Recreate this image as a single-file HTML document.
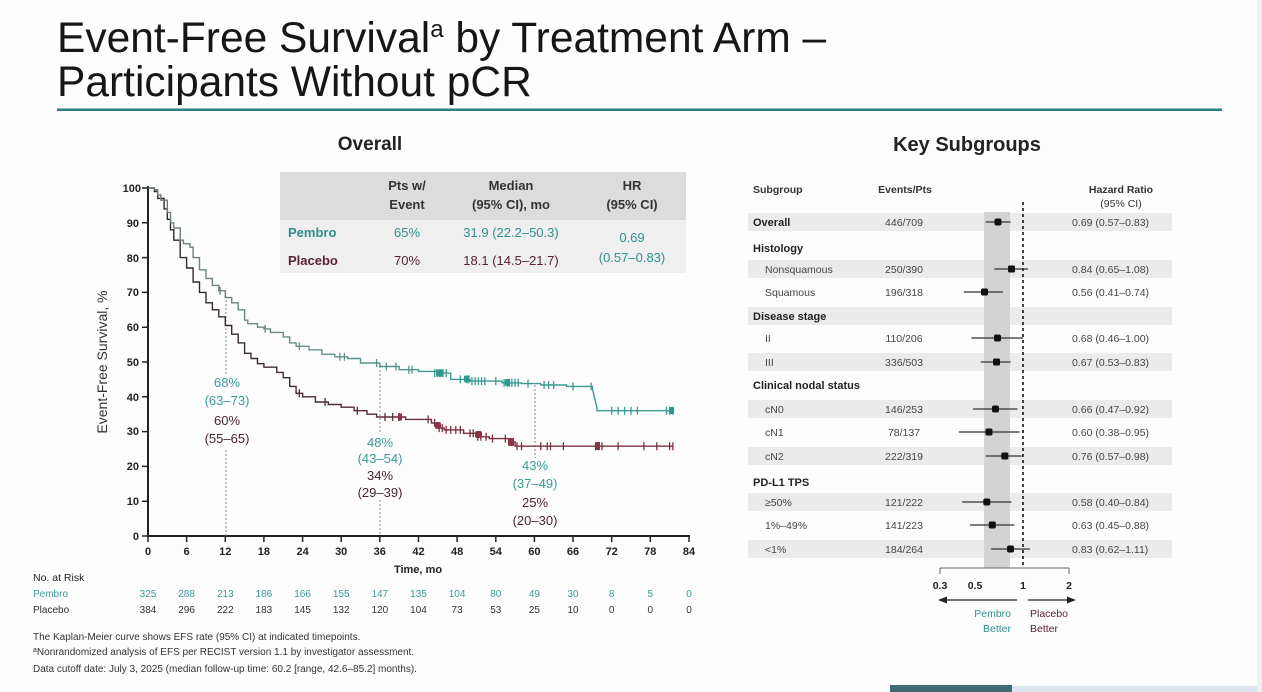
<!DOCTYPE html>
<html><head><meta charset="utf-8"><style>
html,body{margin:0;padding:0;background:#fdfdfe;}
svg{display:block;font-family:"Liberation Sans",Arial,sans-serif;}
</style></head><body>
<svg width="1262" height="692" viewBox="0 0 1262 692" xmlns="http://www.w3.org/2000/svg">
<defs>
<linearGradient id="gp" gradientUnits="userSpaceOnUse" x1="148" y1="0" x2="460" y2="0">
<stop offset="0" stop-color="#6f7b7b"/><stop offset="0.55" stop-color="#6a8e8c"/><stop offset="1" stop-color="#3a9a90"/>
</linearGradient>
<linearGradient id="gq" gradientUnits="userSpaceOnUse" x1="148" y1="0" x2="460" y2="0">
<stop offset="0" stop-color="#2c2a2c"/><stop offset="0.6" stop-color="#4a2a33"/><stop offset="1" stop-color="#7a3040"/>
</linearGradient>
</defs>
<rect x="0" y="0" width="1262" height="692" fill="#fdfdfe"/>
<!-- slide edge decorations -->
<rect x="1010" y="686" width="252" height="6" fill="#dfe5ec"/>
<rect x="1257" y="0" width="5" height="692" fill="#eef1f4"/>
<rect x="890" y="685" width="122" height="7" fill="#3f6b79"/>

<!-- Title -->
<text x="57" y="52" font-size="42.5" fill="#161616">Event-Free Survival<tspan font-size="24" dy="-15">a</tspan><tspan dy="15"> by Treatment Arm –</tspan></text>
<text x="57" y="96" font-size="42.5" fill="#161616">Participants Without pCR</text>
<rect x="57" y="108.5" width="1165" height="2.5" fill="#2f7f7c"/>

<text x="370" y="150" font-size="19" font-weight="bold" text-anchor="middle" fill="#222">Overall</text>
<text x="967" y="151" font-size="20" font-weight="bold" text-anchor="middle" fill="#222">Key Subgroups</text>

<!-- KM inset table -->
<rect x="280" y="172" width="406" height="48" fill="#dcdcdc"/>
<rect x="280" y="220" width="406" height="53" fill="#efefef"/>
<g font-size="13" fill="#333" font-weight="bold" text-anchor="middle">
<text x="407" y="190">Pts w/</text><text x="407" y="209">Event</text>
<text x="511" y="190">Median</text><text x="511" y="209">(95% CI), mo</text>
<text x="632" y="190">HR</text><text x="632" y="209">(95% CI)</text>
</g>
<g font-size="13">
<text x="288" y="237" fill="#2e8f8c" font-weight="bold">Pembro</text>
<text x="407" y="237" fill="#2e8f8c" text-anchor="middle">65%</text>
<text x="511" y="237" fill="#2e8f8c" text-anchor="middle">31.9 (22.2–50.3)</text>
<text x="288" y="265" fill="#5a2233" font-weight="bold">Placebo</text>
<text x="407" y="265" fill="#5a2233" text-anchor="middle">70%</text>
<text x="511" y="265" fill="#5a2233" text-anchor="middle">18.1 (14.5–21.7)</text>
<text x="632" y="242" fill="#2e8f8c" text-anchor="middle">0.69</text>
<text x="632" y="262" fill="#2e8f8c" text-anchor="middle">(0.57–0.83)</text>
</g>

<!-- KM axes -->
<line x1="148" y1="186" x2="148" y2="537" stroke="#222" stroke-width="2"/>
<line x1="147" y1="536" x2="690" y2="536" stroke="#222" stroke-width="2"/>
<g stroke="#222" stroke-width="1.5">
<path d="M142,188H148 M142,222.8H148 M142,257.6H148 M142,292.4H148 M142,327.2H148 M142,362H148 M142,396.8H148 M142,431.6H148 M142,466.4H148 M142,501.2H148 M142,536H148"/>
<path d="M148,536V542 M186.6,536V542 M225.3,536V542 M263.9,536V542 M302.6,536V542 M341.2,536V542 M379.8,536V542 M418.5,536V542 M457.1,536V542 M495.8,536V542 M534.4,536V542 M573,536V542 M611.7,536V542 M650.3,536V542 M689,536V542"/>
</g>
<g font-size="11" font-weight="bold" fill="#222" text-anchor="end">
<text x="141" y="192">100</text><text x="139" y="227">90</text><text x="139" y="262">80</text><text x="139" y="296">70</text><text x="139" y="331">60</text><text x="139" y="366">50</text><text x="139" y="401">40</text><text x="139" y="435">30</text><text x="139" y="470">20</text><text x="139" y="505">10</text><text x="139" y="540">0</text>
</g>
<g font-size="11" font-weight="bold" fill="#222" text-anchor="middle">
<text x="148" y="555">0</text><text x="186.6" y="555">6</text><text x="225.3" y="555">12</text><text x="263.9" y="555">18</text><text x="302.6" y="555">24</text><text x="341.2" y="555">30</text><text x="379.8" y="555">36</text><text x="418.5" y="555">42</text><text x="457.1" y="555">48</text><text x="495.8" y="555">54</text><text x="534.4" y="555">60</text><text x="573" y="555">66</text><text x="611.7" y="555">72</text><text x="650.3" y="555">78</text><text x="689" y="555">84</text>
</g>
<text x="418" y="573" font-size="11" font-weight="bold" fill="#222" text-anchor="middle">Time, mo</text>
<text transform="translate(107,362) rotate(-90)" font-size="14" fill="#333" text-anchor="middle">Event-Free Survival, %</text>

<!-- dotted reference lines -->
<g stroke="#888" stroke-width="1" stroke-dasharray="2 2" fill="none">
<path d="M226,296V374 M226,450V536 M380,366V434 M380,500V536 M535,385V458"/>
</g>

<!-- curves -->
<path d="M148,188 H154.4 V191.5 H157.7 V198.4 H164.1 V208.9 H167.3 V219.3 H170.5 V229.8 H173.8 V240.2 H180.2 V257.6 H186.6 V268 H193.1 V282 H199.5 V292.4 H206 V302.8 H212.4 V309.8 H218.8 V316.8 H225.3 V325.5 H231.7 V334.2 H238.2 V342.9 H244.6 V353.3 H251 V358.5 H257.5 V363.7 H263.9 V367.2 H276.8 V372.4 H283.2 V377.7 H289.7 V386.4 H296.1 V393.3 H302.6 V396.8 H315.4 V402 H328.3 V404.5 H341.2 V407.2 H354.1 V410.7 H367 V414.2 H376.6 V417 H405.6 V419.4 H431.4 V422.9 H437.8 V428.1 H444.2 V429.9 H463.6 V433.3 H476.4 V436.8 H489.3 V438.6 H508.6 V442 H515.1 V446.2 H672.9" fill="none" stroke="url(#gq)" stroke-width="1.4"/>
<path d="M148,188 H154.4 V189.7 H157.7 V195 H160.9 V200.2 H167.3 V212.4 H170.5 V222.8 H173.8 V228 H180.2 V240.2 H183.4 V243.7 H189.9 V247.2 H193.1 V257.6 H199.5 V269.8 H206 V278.5 H212.4 V285.4 H218.8 V290.7 H225.3 V297.6 H231.7 V302.8 H238.2 V309.8 H244.6 V320.2 H247.8 V323.7 H257.5 V327.2 H263.9 V328.9 H270.4 V332.4 H283.2 V336.9 H289.7 V342.9 H296.1 V346.3 H309 V349.8 H321.9 V354.3 H334.8 V356.8 H347.6 V358.5 H360.5 V363 H379.8 V366.5 H399.2 V369.7 H418.5 V371.4 H437.8 V373.1 H450.7 V379.4 H470 V381.1 H502.2 V382.9 H521.5 V383.6 H540.8 V385 H566.6 V386.4 H592.4 V388.8 L597,408 V410.7 H672.9" fill="none" stroke="url(#gp)" stroke-width="1.4"/>
<!-- censor marks -->
<path d="M220.1,286.7v8 M265.2,324.9v8 M299.3,342.3v8 M339.9,352.8v8 M344.4,352.8v8 M376.6,359v8 M386.3,362.5v8 M395.9,362.5v8 M408.8,365.7v8 M412,365.7v8 M434.6,369.1v8 M437,369.1v8 M439.7,369.1v8 M441.5,369.1v8 M443,369.1v8 M446.2,369.1v8 M460.3,375.4v8 M466.8,375.4v8 M469,375.4v8 M471.9,377.1v8 M475.2,377.1v8 M478.4,377.1v8 M481.6,377.1v8 M484.8,377.1v8 M495.8,377.1v8 M504.1,378.9v8 M507.4,378.9v8 M509.5,378.9v8 M511.9,378.9v8 M515.1,378.9v8 M518.3,378.9v8 M528,379.6v8 M544.1,381v8 M548.6,381v8 M553.7,381v8 M573,382.4v8 M591.1,382.4v8 M611.7,406.7v8 M618.1,406.7v8 M624.6,406.7v8 M631,406.7v8 M637.4,406.7v8 M666.4,406.7v8 M669.6,406.7v8 M672.9,406.7v8" stroke="url(#gp)" stroke-width="1.3" fill="none"/>
<g fill="#2e9a8e"><rect x="436" y="369.5" width="7" height="7" rx="2"/><rect x="464" y="375.5" width="5" height="7" rx="1.5"/><rect x="505" y="379" width="5" height="7" rx="1.5"/><rect x="670" y="407" width="4" height="7"/></g>
<path d="M299.3,389.3v8 M325.1,398v8 M357.3,406.7v8 M385,413v8 M392.7,413v8 M399.2,413v8 M428.1,415.4v8 M434.6,418.9v8 M439.1,424.1v8 M442.3,424.1v8 M446.2,425.9v8 M450.7,425.9v8 M455.8,425.9v8 M460.3,425.9v8 M470,429.3v8 M473.2,429.3v8 M477.7,432.8v8 M480.9,432.8v8 M486.1,432.8v8 M492.5,434.6v8 M505.4,434.6v8 M509.9,438v8 M513.1,438v8 M517,442.2v8 M521.5,442.2v8 M540.8,442.2v8 M547.3,442.2v8 M550.5,442.2v8 M563.4,442.2v8 M595.6,442.2v8 M598.8,442.2v8 M602,442.2v8 M618.1,442.2v8 M643.9,442.2v8 M656.8,442.2v8 M669.6,442.2v8 M672.9,442.2v8" stroke="url(#gq)" stroke-width="1.3" fill="none"/>
<g fill="#8a3545"><rect x="398" y="413.5" width="4" height="7"/><rect x="435" y="422" width="6" height="7" rx="2"/><rect x="475" y="431" width="7" height="7" rx="2"/><rect x="508" y="438" width="6" height="8" rx="1.5"/><rect x="596" y="442" width="4" height="8"/></g>

<!-- annotations -->
<g font-size="13" text-anchor="middle">
<text x="227" y="387" fill="#3a9a96">68%</text>
<text x="227" y="405" fill="#3a9a96">(63–73)</text>
<text x="227" y="425" fill="#4a2430">60%</text>
<text x="227" y="443" fill="#4a2430">(55–65)</text>
<text x="380" y="447" fill="#3a9a96">48%</text>
<text x="380" y="463" fill="#3a9a96">(43–54)</text>
<text x="380" y="480" fill="#4a2430">34%</text>
<text x="380" y="497" fill="#4a2430">(29–39)</text>
<text x="535" y="470" fill="#3a9a96">43%</text>
<text x="535" y="488" fill="#3a9a96">(37–49)</text>
<text x="535" y="507" fill="#4a2430">25%</text>
<text x="535" y="525" fill="#4a2430">(20–30)</text>
</g>

<!-- risk table -->
<text x="33" y="581" font-size="10.5" fill="#222">No. at Risk</text>
<text x="33" y="597" font-size="10" fill="#3a9a96">Pembro</text>
<text x="33" y="613" font-size="10" fill="#333">Placebo</text>
<g font-size="10" text-anchor="middle" fill="#3a9a96">
<text x="148" y="597">325</text><text x="186.6" y="597">288</text><text x="225.3" y="597">213</text><text x="263.9" y="597">186</text><text x="302.6" y="597">166</text><text x="341.2" y="597">155</text><text x="379.8" y="597">147</text><text x="418.5" y="597">135</text><text x="457.1" y="597">104</text><text x="495.8" y="597">80</text><text x="534.4" y="597">49</text><text x="573" y="597">30</text><text x="611.7" y="597">8</text><text x="650.3" y="597">5</text><text x="689" y="597">0</text>
</g>
<g font-size="10" text-anchor="middle" fill="#333">
<text x="148" y="613">384</text><text x="186.6" y="613">296</text><text x="225.3" y="613">222</text><text x="263.9" y="613">183</text><text x="302.6" y="613">145</text><text x="341.2" y="613">132</text><text x="379.8" y="613">120</text><text x="418.5" y="613">104</text><text x="457.1" y="613">73</text><text x="495.8" y="613">53</text><text x="534.4" y="613">25</text><text x="573" y="613">10</text><text x="611.7" y="613">0</text><text x="650.3" y="613">0</text><text x="689" y="613">0</text>
</g>
<g font-size="10" fill="#333">
<text x="33" y="640">The Kaplan-Meier curve shows EFS rate (95% CI) at indicated timepoints.</text>
<text x="33" y="655"><tspan font-size="7" dy="-3">a</tspan><tspan dy="3">Nonrandomized analysis of EFS per RECIST version 1.1 by investigator assessment.</tspan></text>
<text x="33" y="672">Data cutoff date: July 3, 2025 (median follow-up time: 60.2 [range, 42.6–85.2] months).</text>
</g>

<!-- Forest plot -->
<g fill="#ebebeb">
<rect x="748" y="213" width="424" height="18"/>
<rect x="748" y="260" width="424" height="18"/>
<rect x="748" y="307" width="424" height="18"/>
<rect x="748" y="353" width="424" height="18"/>
<rect x="748" y="400" width="424" height="18"/>
<rect x="748" y="447" width="424" height="18"/>
<rect x="748" y="493" width="424" height="18"/>
<rect x="748" y="540" width="424" height="18"/>
</g>
<rect x="984" y="212" width="26" height="356" fill="#d3d3d3"/>
<line x1="1023" y1="202" x2="1023" y2="568" stroke="#111" stroke-width="1.6" stroke-dasharray="3 3"/>

<g font-size="10.5" fill="#333" font-weight="bold">
<text x="753" y="193">Subgroup</text>
<text x="905" y="193" text-anchor="middle">Events/Pts</text>
<text x="1121" y="193" text-anchor="middle">Hazard Ratio</text>
<text x="1121" y="207" text-anchor="middle" font-weight="normal">(95% CI)</text>
</g>
<g font-size="11" fill="#222" font-weight="bold">
<text x="753" y="226">Overall</text>
<text x="753" y="252">Histology</text>
<text x="753" y="320">Disease stage</text>
<text x="753" y="389">Clinical nodal status</text>
<text x="753" y="486">PD-L1 TPS</text>
</g>
<g font-size="10.5" fill="#444">
<text x="765" y="273">Nonsquamous</text>
<text x="765" y="296">Squamous</text>
<text x="765" y="342">II</text>
<text x="765" y="366">III</text>
<text x="765" y="413">cN0</text>
<text x="765" y="436">cN1</text>
<text x="765" y="460">cN2</text>
<text x="765" y="506">≥50%</text>
<text x="765" y="529">1%–49%</text>
<text x="765" y="553">&lt;1%</text>
</g>
<g font-size="10.5" fill="#444" text-anchor="middle">
<text x="904" y="226">446/709</text>
<text x="904" y="273">250/390</text>
<text x="904" y="296">196/318</text>
<text x="904" y="342">110/206</text>
<text x="904" y="366">336/503</text>
<text x="904" y="413">146/253</text>
<text x="904" y="436">78/137</text>
<text x="904" y="460">222/319</text>
<text x="904" y="506">121/222</text>
<text x="904" y="529">141/223</text>
<text x="904" y="553">184/264</text>
</g>
<g font-size="10.5" fill="#444">
<text x="1072" y="226">0.69 (0.57–0.83)</text>
<text x="1072" y="273">0.84 (0.65–1.08)</text>
<text x="1072" y="296">0.56 (0.41–0.74)</text>
<text x="1072" y="342">0.68 (0.46–1.00)</text>
<text x="1072" y="366">0.67 (0.53–0.83)</text>
<text x="1072" y="413">0.66 (0.47–0.92)</text>
<text x="1072" y="436">0.60 (0.38–0.95)</text>
<text x="1072" y="460">0.76 (0.57–0.98)</text>
<text x="1072" y="506">0.58 (0.40–0.84)</text>
<text x="1072" y="529">0.63 (0.45–0.88)</text>
<text x="1072" y="553">0.83 (0.62–1.11)</text>
</g>
<!-- CI lines -->
<g stroke="#333" stroke-width="1.2">
<path d="M985.7,222H1010.6 M994.4,269H1028.1 M963.8,292H1003 M971.4,338H1023 M980.8,362H1010.6 M972.9,409H1017.5 M958.8,432H1019.6 M985.7,456H1021.7 M962.2,502H1011.4 M970,525H1014.5 M991.2,549H1029.9"/>
</g>
<g fill="#111">
<rect x="994.5" y="218.5" width="7" height="7" rx="2"/>
<rect x="1008" y="265.5" width="7" height="7" rx="1.5"/>
<rect x="981" y="288.5" width="7" height="7" rx="1.5"/>
<rect x="994" y="334.5" width="7" height="7" rx="2"/>
<rect x="993" y="358.5" width="7" height="7" rx="1.5"/>
<rect x="992" y="405.5" width="7" height="7" rx="2"/>
<rect x="985.5" y="428.5" width="7" height="7" rx="1.5"/>
<rect x="1001.3" y="452.5" width="7" height="7" rx="1.5"/>
<rect x="983.3" y="498.5" width="7" height="7" rx="2"/>
<rect x="988.8" y="521.5" width="7" height="7" rx="1.5"/>
<rect x="1007" y="545.5" width="7" height="7" rx="2"/>
</g>
<!-- forest axis -->
<g stroke="#666" stroke-width="1" fill="none">
<path d="M940,568H1069 M940,568V574 M1069,568V574"/>
</g>
<g font-size="10.5" fill="#222" font-weight="bold" text-anchor="middle">
<text x="940" y="589">0.3</text>
<text x="975" y="589">0.5</text>
<text x="1023" y="589">1</text>
<text x="1069" y="589">2</text>
</g>
<g stroke="#222" stroke-width="1.3">
<line x1="1017" y1="600" x2="945" y2="600"/>
<line x1="1028" y1="600" x2="1070" y2="600"/>
</g>
<path d="M938,600 L947,596.5 L947,603.5 Z" fill="#222"/>
<path d="M1076,600 L1067,596.5 L1067,603.5 Z" fill="#222"/>
<g font-size="10.5">
<text x="1011" y="617" text-anchor="end" fill="#2e8f8c">Pembro</text>
<text x="1011" y="632" text-anchor="end" fill="#2e8f8c">Better</text>
<text x="1030" y="617" fill="#5a2233">Placebo</text>
<text x="1030" y="632" fill="#5a2233">Better</text>
</g>
</svg>
</body></html>
